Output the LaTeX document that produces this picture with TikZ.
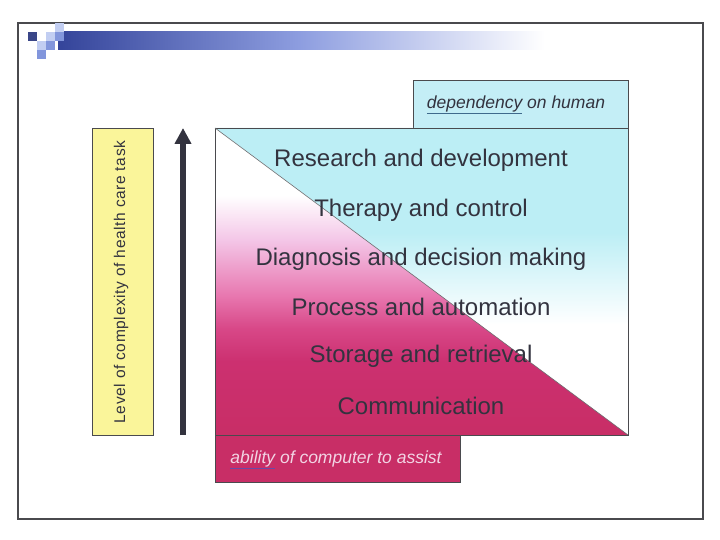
\documentclass[tikz,border=0pt]{standalone}
\usepackage{fontspec}
\setmainfont{Liberation Sans}
\usetikzlibrary{arrows.meta}
\definecolor{frame}{HTML}{4A4A4E}
\definecolor{barblue}{HTML}{34449A}
\definecolor{barmid}{HTML}{8E9EE0}
\definecolor{sqdark}{HTML}{3A4688}
\definecolor{sqmid}{HTML}{8296DC}
\definecolor{sqlight}{HTML}{C2CEF2}
\definecolor{human}{HTML}{BCEEF5}
\definecolor{humanbox}{HTML}{C4EEF6}
\definecolor{computer}{HTML}{C82E66}
\definecolor{complexity}{HTML}{FAF59A}
\definecolor{itemtext}{HTML}{33333F}
\definecolor{ulteal}{HTML}{3F6A8C}
\definecolor{ulpurple}{HTML}{6A4AA8}
\definecolor{assisttext}{HTML}{F2D4E4}

% Colour runs of the two triangles (bottom of the square at 25bp, top at 75bp).
\pgfdeclareverticalshading{humanfade}{100bp}{color(0bp)=(white); color(25bp)=(white);
  color(43bp)=(white); color(58bp)=(human); color(75bp)=(human); color(100bp)=(human)}
\pgfdeclareverticalshading{computerfade}{100bp}{color(0bp)=(computer); color(25bp)=(computer);
  color(37bp)=(rgb,255:red,204;green,48;blue,112); color(42.4bp)=(rgb,255:red,216;green,72;blue,136);
  color(47.8bp)=(rgb,255:red,232;green,120;blue,176); color(57bp)=(rgb,255:red,244;green,200;blue,232);
  color(64bp)=(white); color(75bp)=(white); color(100bp)=(white)}

\begin{document}
\begin{tikzpicture}[x=1pt,y=-1pt,
  item/.style={text=itemtext,font=\fontsize{24}{28}\selectfont,anchor=center},
  tag/.style={font=\fontsize{17.5}{20}\selectfont\itshape,anchor=center}]
  \path[use as bounding box] (0,0) rectangle (720,540);
  \fill[white] (0,0) rectangle (720,540);

  % Slide frame and title bar.
  \draw[frame,line width=2pt] (18,23) rectangle (703,519);
  \shade[left color=barblue,right color=white,middle color=barmid]
    (58,32) rectangle (545,50);
  \foreach \cx/\cy/\col in {28/32/sqdark,46/32/sqlight,55/23/sqlight,55/32/sqmid,
                            37/41/sqlight,46/41/sqmid,37/50/sqmid}{
    \fill[\col] (\cx,\cy) rectangle ++(9,9);
  }

  % Axis label and arrow.
  \fill[complexity] (92,128) rectangle (153,435);
  \draw[frame,line width=0.8pt] (92,128) rectangle (153,435);
  \node[rotate=90,text=itemtext,font=\fontsize{15.5}{18}\selectfont\addfontfeatures{LetterSpace=4}] (level)
    at (121,282) {Level of complexity of health care task};
  \coordinate (low) at (183,435);
  \coordinate (high) at (183,128);
  \draw[itemtext,line width=5.5pt,-{Triangle[length=16pt,width=16pt]}] (low) -- (high);

  % Side boxes.
  \fill[humanbox] (413,80) rectangle (628,128);
  \draw[frame,line width=0.8pt] (413,128) -- (413,80) -- (628,80) -- (628,128);
  \node[tag,text=itemtext] (human) at (516,105)
    {{\color{ulteal}\underline{\textcolor{itemtext}{dependency}}} on human};
  \fill[computer] (215,435) rectangle (460,482);
  \draw[frame,line width=0.8pt] (215,435) -- (215,482) -- (460,482) -- (460,435);
  \node[tag,text=assisttext] (assist) at (336,460)
    {{\color{ulpurple}\underline{\textcolor{assisttext}{ability}}} of computer to assist};

  % Two triangles of the task square.
  \shade[shading=humanfade] (215,128) -- (628,128) -- (628,435) -- cycle;
  \shade[shading=computerfade] (215,128) -- (628,435) -- (215,435) -- cycle;
  \draw[frame,line width=0.8pt] (215,128) rectangle (628,435);
  \draw[frame!80,line width=0.6pt] (215,128) -- (628,435);

  % Health care tasks, simplest at the bottom.
  \node[item] (research) at (421,160) {Research and development};
  \node[item] (therapy) at (421,210) {Therapy and control};
  \node[item] (diagnosis) at (421,259) {Diagnosis and decision making};
  \node[item] (process) at (421,307) {Process and automation};
  \node[item] (storage) at (421,356) {Storage and retrieval};
  \node[item] (communication) at (421,406) {Communication};
\end{tikzpicture}
\end{document}
